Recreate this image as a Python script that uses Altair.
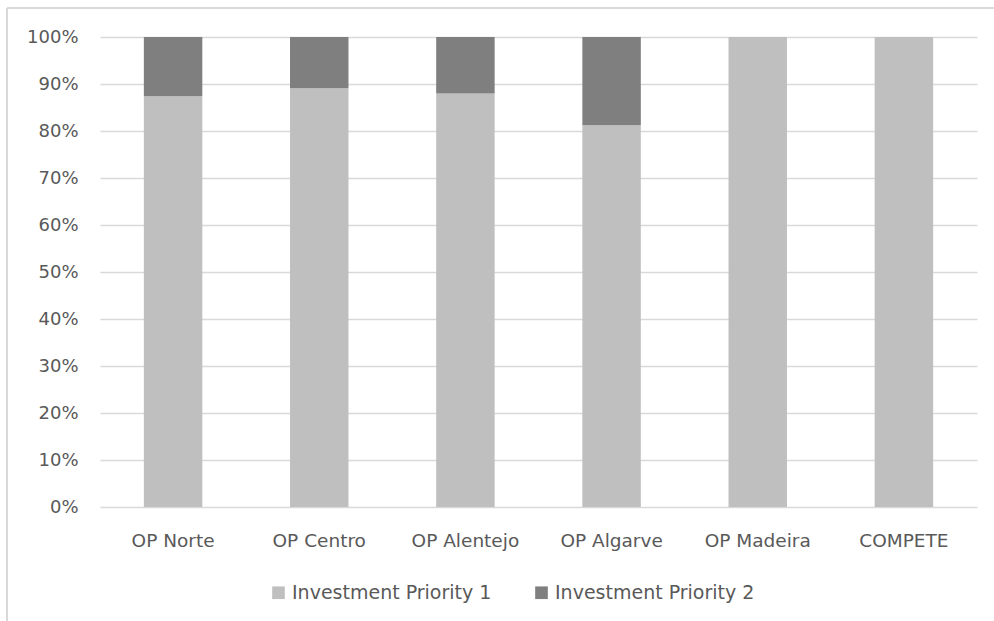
import altair as alt
import pandas as pd

categories = ["OP Norte", "OP Centro", "OP Alentejo", "OP Algarve", "OP Madeira", "COMPETE"]
series_names = ["Investment Priority 1", "Investment Priority 2"]
ip1 = [0.874, 0.891, 0.880, 0.812, 1.0, 1.0]
ip2 = [0.126, 0.109, 0.120, 0.188, 0.0, 0.0]
colors = ["#bfbfbf", "#7f7f7f"]

rows = []
for c, a, b in zip(categories, ip1, ip2):
    rows.append({"cat": c, "series": series_names[0], "value": a, "order": 0})
    rows.append({"cat": c, "series": series_names[1], "value": b, "order": 1})
df = pd.DataFrame(rows)

FONT = "DejaVu Sans"
TXT = "#595959"

bars = alt.Chart(df).mark_bar().encode(
    x=alt.X("cat:N", sort=categories,
            scale=alt.Scale(paddingInner=0.6, paddingOuter=0.3),
            axis=alt.Axis(title=None, labelAngle=0, ticks=False, domain=False,
                          labelPadding=24, labelFont=FONT, labelFontSize=18.5,
                          labelColor=TXT)),
    y=alt.Y("value:Q", stack="zero",
            scale=alt.Scale(domain=[0, 1], nice=False),
            axis=alt.Axis(title=None, format=".0%", values=[i / 10 for i in range(11)],
                          ticks=False, domain=False, labelPadding=22,
                          labelFont=FONT, labelFontSize=18, labelColor=TXT,
                          gridColor="#d9d9d9", gridWidth=1.3)),
    color=alt.Color("series:N", sort=series_names,
                    scale=alt.Scale(domain=series_names, range=colors),
                    legend=alt.Legend(title=None, orient="none", direction="horizontal",
                                      legendX=169, legendY=546,
                                      symbolType="square", symbolSize=160,
                                      symbolStrokeWidth=0, labelFont=FONT,
                                      labelFontSize=19, labelColor=TXT,
                                      labelLimit=400,
                                      columnPadding=40, labelOffset=4)),
    order=alt.Order("order:Q"),
)

border_top = alt.Chart(df).mark_rule(color="#d9d9d9", strokeWidth=1.5).encode(
    x=alt.value(-93), x2=alt.value(894), y=alt.value(-29)
)
border_left = alt.Chart(df).mark_rule(color="#d9d9d9", strokeWidth=1.5).encode(
    x=alt.value(-93), y=alt.value(-29), y2=alt.value(584)
)

chart = alt.layer(bars, border_top, border_left).properties(
    width=877, height=470,
    autosize=alt.AutoSizeParams(type="none"),
    padding={"left": 100, "top": 37, "right": 17, "bottom": 114},
    background="white",
).configure_view(stroke=None)

chart.save("out.html", embed_options={"renderer": "svg", "actions": False})
